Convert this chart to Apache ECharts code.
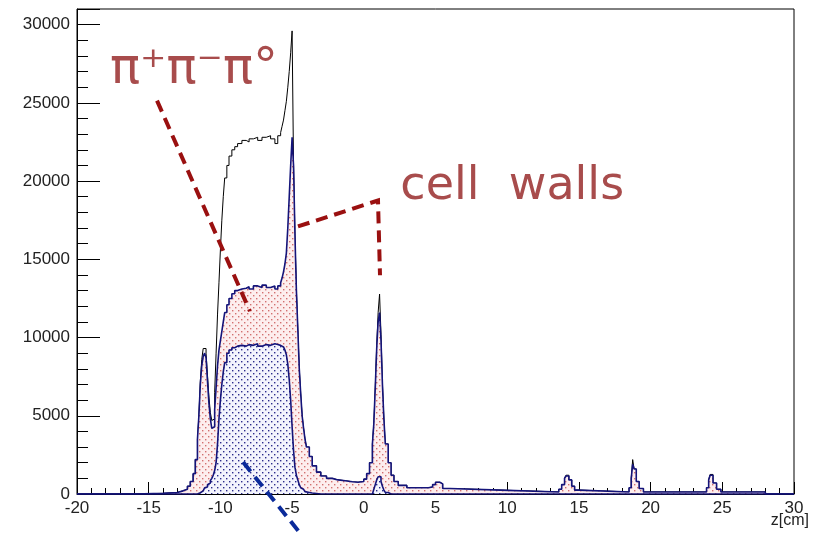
<!DOCTYPE html>
<html>
<head>
<meta charset="utf-8">
<script src="https://cdn.jsdelivr.net/npm/echarts@6/dist/echarts.min.js"></script>
<style>
  html, body { margin: 0; padding: 0; background: #fff; }
  #chart { width: 817px; height: 540px; }
</style>
</head>
<body>
<div id="chart"></div>
<script>
// bin left edges in z[cm]; the last bin closes at zMax
const zEdges = [
  -20, -16, -14, -13, -12.6, -12.3, -12.1, -11.9, -11.75, -11.6,
  -11.5, -11.4, -11.3, -11.2, -11.1, -11.0, -10.9, -10.8, -10.7, -10.6,
  -10.5, -10.4, -10.3, -10.2, -10.1, -10.0, -9.9, -9.8, -9.7, -9.55,
  -9.4, -9.2, -9.0, -8.8, -8.5, -8.2, -8.0, -7.7, -7.4, -7.1,
  -6.8, -6.5, -6.2, -6.0, -5.8, -5.7, -5.6, -5.5, -5.4, -5.3,
  -5.2, -5.1, -5.0, -4.9, -4.8, -4.7, -4.6, -4.5, -4.4, -4.3,
  -4.2, -4.1, -4.0, -3.8, -3.6, -3.3, -3.0, -2.6, -2.2, -1.8,
  -1.3, -0.8, -0.4, 0.0, 0.2, 0.4, 0.6, 0.7, 0.8, 0.9,
  1.0, 1.1, 1.2, 1.3, 1.4, 1.5, 1.7, 1.9, 2.1, 2.4,
  3.0, 4.5, 4.8, 5.0, 5.3, 5.5, 6.0, 9.5, 13.6, 13.8,
  14.0, 14.1, 14.3, 14.5, 14.7, 15.0, 18.5, 18.65, 18.75, 18.85,
  19.0, 19.2, 19.5, 23.9, 24.05, 24.15, 24.35, 24.6, 24.9, 28.0
];
const zMax = 30;

// all events (black outline)
const totalCounts = [
  0, 40, 100, 200, 300, 500, 800, 1300, 2200, 3500,
  5000, 7200, 8600, 9300, 9300, 9000, 7600, 6200, 5200, 4700,
  4800, 6500, 9000, 11500, 13500, 15600, 17500, 19000, 20200, 21000,
  21600, 22000, 22200, 22400, 22600, 22500, 22700, 22800, 22600, 22800,
  22900, 22700, 22400, 22900, 23100, 23500, 23900, 24500, 25100, 26000,
  27000, 28200, 29600, 21000, 16500, 13000, 10500, 8000, 6400, 5000,
  4200, 3500, 3000, 2400, 1800, 1400, 1150, 1000, 900, 850,
  780, 750, 800, 950, 1300, 2000, 3200, 4500, 6800, 9500,
  11600, 12780, 10200, 7000, 4800, 3200, 2000, 1200, 800, 550,
  400, 450, 600, 750, 650, 350, 250, 130, 300, 600,
  1000, 1200, 900, 500, 250, 130, 400, 1000, 2200, 1600,
  800, 350, 130, 400, 900, 1250, 700, 300, 130, 0
];

// pi+ pi- pi0 selection (pink dotted)
const pppCounts = [
  0, 40, 100, 200, 300, 500, 800, 1300, 2200, 3500,
  5000, 7000, 8200, 8800, 9000, 8700, 7200, 5800, 4800, 4200,
  4300, 5400, 6800, 8200, 9200, 9800, 10400, 11000, 11600, 12100,
  12500, 12800, 13000, 13100, 13150, 13250, 13100, 13300, 13200, 13350,
  13200, 13300, 13100, 13300, 13500, 13800, 14200, 14700, 15400, 17000,
  19000, 21000, 22800, 21000, 16500, 13000, 10500, 8000, 6400, 5000,
  4200, 3500, 3000, 2400, 1800, 1400, 1150, 1000, 900, 850,
  780, 750, 800, 950, 1300, 2000, 3200, 4500, 6800, 9300,
  11000, 11600, 9800, 7000, 4800, 3200, 2000, 1200, 800, 550,
  400, 450, 600, 750, 650, 350, 250, 130, 300, 600,
  1000, 1150, 900, 500, 250, 130, 400, 1000, 1900, 1600,
  800, 350, 130, 400, 900, 1200, 700, 300, 130, 0
];

// target region (blue dotted)
const targetCounts = [
  0, 0, 0, 0, 0, 0, 0, 0, 0, 50,
  80, 100, 200, 300, 400, 450, 600, 700, 850, 1000,
  1200, 1500, 2000, 3200, 4800, 6000, 7000, 7800, 8400, 9000,
  9200, 9350, 9450, 9500, 9450, 9550, 9500, 9600, 9450, 9550,
  9500, 9600, 9550, 9500, 9450, 9400, 9300, 9200, 8900, 8300,
  7300, 6000, 4300, 2800, 1700, 1200, 900, 600, 400, 300,
  200, 150, 100, 60, 30, 0, 0, 0, 0, 0,
  0, 0, 0, 0, 0, 0, 100, 300, 600, 900,
  1100, 1100, 800, 500, 250, 100, 0, 0, 0, 0,
  0, 0, 0, 0, 0, 0, 0, 0, 0, 0,
  0, 0, 0, 0, 0, 0, 0, 0, 0, 0,
  0, 0, 0, 0, 0, 0, 0, 0, 0, 0
];

// annotations, in data coordinates
const pppLabelAt = [-17.7, 28700];
const wallsLabelAt = [2.55, 21100];
const pppPointer = [[-14.42, 25140], [-7.94, 11680]];
const wallsPointer = [[-4.59, 17100], [0.99, 18760], [1.13, 13980]];
const targetPointer = [[-8.42, 2040], [-4.45, -2490]];

const toSteps = (counts) => {
  const pts = zEdges.map((z, i) => [z, counts[i]]);
  pts.push([zMax, counts[counts.length - 1]]);
  return pts;
};

const makeDots = (bg, dot) => {
  const c = document.createElement("canvas");
  c.width = 6;
  c.height = 6;
  const ctx = c.getContext("2d");
  ctx.fillStyle = bg;
  ctx.fillRect(0, 0, 6, 6);
  ctx.fillStyle = dot;
  ctx.fillRect(1, 1, 1.4, 1.4);
  ctx.fillRect(4, 4, 1.4, 1.4);
  return c;
};

const chart = echarts.init(document.getElementById("chart"));
const axisFont = { color: "#222", fontSize: 17, fontFamily: "Liberation Sans" };
const navy = "#14147a";

chart.setOption({
  animation: false,
  backgroundColor: "#fff",
  grid: { left: 77, right: 23, top: 9, bottom: 46, show: true, borderColor: "#000", borderWidth: 1 },
  xAxis: {
    type: "value",
    min: -20,
    max: 30,
    interval: 5,
    axisLine: { onZero: false, lineStyle: { color: "#000" } },
    axisTick: { inside: true, length: 12, lineStyle: { color: "#000" } },
    minorTick: { show: true, splitNumber: 5, length: 6, lineStyle: { color: "#000" } },
    splitLine: { show: false },
    axisLabel: { ...axisFont, margin: 6, formatter: (v) => String(v) },
  },
  yAxis: {
    type: "value",
    min: 0,
    max: 31000,
    interval: 5000,
    axisLine: { show: true, onZero: false, lineStyle: { color: "#000" } },
    axisTick: { show: true, inside: true, length: 23, lineStyle: { color: "#000" } },
    minorTick: { show: true, splitNumber: 5, length: 11, lineStyle: { color: "#000" } },
    splitLine: { show: false },
    axisLabel: { ...axisFont, margin: 7, showMaxLabel: false, formatter: (v) => String(v) },
  },
  series: [
    {
      name: "all",
      type: "line",
      step: "end",
      showSymbol: false,
      data: toSteps(totalCounts),
      lineStyle: { color: "#000", width: 1 },
      z: 2,
    },
    {
      name: "pi+pi-pi0",
      type: "line",
      step: "end",
      showSymbol: false,
      data: toSteps(pppCounts),
      lineStyle: { color: navy, width: 1.6 },
      areaStyle: { color: { image: makeDots("#fdeeee", "#d27070"), repeat: "repeat" }, opacity: 1 },
      z: 3,
    },
    {
      name: "target",
      type: "line",
      step: "end",
      showSymbol: false,
      data: toSteps(targetCounts),
      lineStyle: { color: navy, width: 1.6 },
      areaStyle: { color: { image: makeDots("#f3f4fd", "#2c2c8c"), repeat: "repeat" }, opacity: 1 },
      z: 4,
    },
  ],
});

const px = (p) => chart.convertToPixel({ gridIndex: 0 }, p);
const noteColor = "#a84c4c";
const dashed = (pts, color) => ({
  type: "polyline",
  silent: true,
  z: 100,
  shape: { points: pts.map(px) },
  style: { stroke: color, lineWidth: 4, lineDash: [12, 7], fill: null },
});
const p1 = px(pppLabelAt);
const p2 = px(wallsLabelAt);

chart.setOption({
  graphic: [
    dashed(pppPointer, "#9a1010"),
    dashed(wallsPointer, "#9a1010"),
    dashed(targetPointer, "#0a2a9a"),
    {
      type: "text",
      z: 100,
      x: p1[0],
      y: p1[1],
      style: { text: "π⁺π⁻π°", fill: noteColor, font: '50px "DejaVu Sans"' },
    },
    {
      type: "text",
      z: 100,
      x: p2[0],
      y: p2[1],
      style: { text: "cell  walls", fill: noteColor, font: '46px "DejaVu Sans"' },
    },
    {
      type: "text",
      z: 100,
      right: 8,
      top: 513,
      style: { text: "z[cm]", fill: "#222", font: '16px "Liberation Sans"' },
    },
  ],
});
</script>
</body>
</html>
